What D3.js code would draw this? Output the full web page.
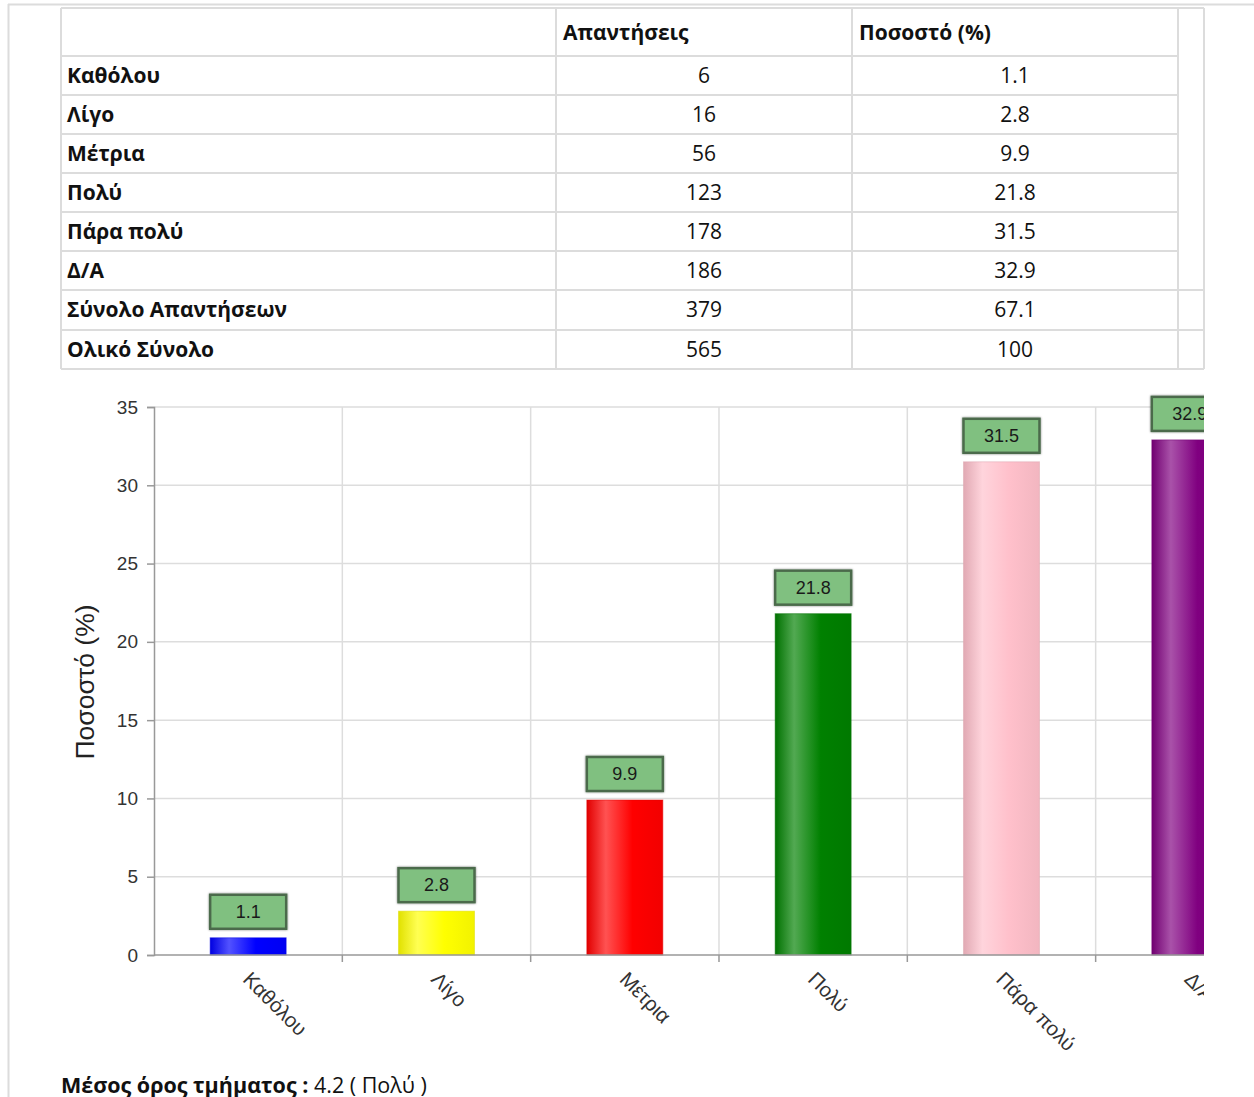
<!DOCTYPE html>
<html>
<head>
<meta charset="utf-8">
<script src="https://cdn.jsdelivr.net/npm/d3@7"></script>
<style>
  body { margin: 0; background: #fff; overflow: hidden; }
  svg { display: block; }
</style>
</head>
<body>
<svg id="page" width="1254" height="1097"></svg>
<script>
// Data ***********************************************************************
const categories = ["Καθόλου", "Λίγο", "Μέτρια", "Πολύ", "Πάρα πολύ", "Δ/Α"];
const responses = [6, 16, 56, 123, 178, 186];
const percents = [1.1, 2.8, 9.9, 21.8, 31.5, 32.9];
const barColors = ["#0000ff", "#ffff00", "#ff0000", "#008000", "#ffc0cb", "#800080"];

const totalLabels = ["Σύνολο Απαντήσεων", "Ολικό Σύνολο"];
const totalResponses = [379, 565];
const totalPercents = [67.1, 100];

const headers = ["", "Απαντήσεις", "Ποσοστό (%)"];
const yTicks = [0, 5, 10, 15, 20, 25, 30, 35];

const svg = d3.select("#page");
const border = "#dcdcdc";

// Page frame lines
svg.append("line").attr("x1", 8).attr("x2", 1254).attr("y1", 4.5).attr("y2", 4.5)
    .attr("stroke", border).attr("stroke-width", 2);
svg.append("line").attr("x1", 8.5).attr("x2", 8.5).attr("y1", 4).attr("y2", 1097)
    .attr("stroke", border).attr("stroke-width", 2);

// Table section **************************************************************
const colX = [61, 556, 852, 1178, 1204];           // column borders
const rowY = [8, 56, 95, 134, 173, 212, 251, 290, 330, 369]; // row borders

const rows = categories.map((c, i) => [c, responses[i], percents[i]])
    .concat(totalLabels.map((c, i) => [c, totalResponses[i], totalPercents[i]]));

const table = svg.append("g").attr("font-family", "'Open Sans', sans-serif").attr("font-size", 21);

// horizontal lines
rowY.forEach((y, i) => {
    // the last narrow column spans the first rows, so no inner lines there
    const x2 = (i >= 1 && i <= 6) ? colX[3] : colX[4];
    table.append("line").attr("x1", colX[0]).attr("x2", x2).attr("y1", y).attr("y2", y)
        .attr("stroke", border).attr("stroke-width", 2);
});
// vertical lines
colX.forEach(x => {
    table.append("line").attr("x1", x).attr("x2", x).attr("y1", rowY[0]).attr("y2", rowY[rowY.length - 1])
        .attr("stroke", border).attr("stroke-width", 2);
});

// header text
headers.forEach((h, j) => {
    table.append("text").attr("x", colX[j] + 7).attr("y", 40)
        .attr("font-weight", "bold").attr("fill", "#111").text(h);
});

// body rows
rows.forEach((r, i) => {
    const yMid = (rowY[i + 1] + rowY[i + 2]) / 2;
    table.append("text").attr("x", colX[0] + 6).attr("y", yMid + 7)
        .attr("font-weight", "bold").attr("fill", "#111").text(r[0]);
    table.append("text").attr("x", (colX[1] + colX[2]) / 2).attr("y", yMid + 7)
        .attr("text-anchor", "middle").attr("fill", "#111").text(r[1]);
    table.append("text").attr("x", (colX[2] + colX[3]) / 2).attr("y", yMid + 7)
        .attr("text-anchor", "middle").attr("fill", "#111").text(r[2]);
});

// Chart section **************************************************************
const plotLeft = 154, plotTop = 407, plotBottom = 955, bandW = 188.33;

const x = d3.scaleBand().domain(categories)
    .range([plotLeft, plotLeft + bandW * categories.length]);
const y = d3.scaleLinear().domain([0, 35]).range([plotBottom, plotTop]);

// clip at the container edge
const defs = svg.append("defs");
defs.append("clipPath").attr("id", "clip")
    .append("rect").attr("x", 0).attr("y", 380).attr("width", 1204).attr("height", 717);

// gradients for bars
barColors.forEach((c, i) => {
    const base = d3.color(c);
    const light = d3.interpolateRgb(c, "#ffffff")(0.32);
    const g = defs.append("linearGradient").attr("id", "grad" + i)
        .attr("x1", "0%").attr("x2", "100%").attr("y1", "0%").attr("y2", "0%");
    g.append("stop").attr("offset", "0%").attr("stop-color", base.darker(0.35));
    g.append("stop").attr("offset", "25%").attr("stop-color", light);
    g.append("stop").attr("offset", "60%").attr("stop-color", c);
    g.append("stop").attr("offset", "100%").attr("stop-color", base.darker(0.15));
});

// shadow filter for data labels
const f = defs.append("filter").attr("id", "shadow").attr("x", "-20%").attr("y", "-30%")
    .attr("width", "140%").attr("height", "160%");
f.append("feGaussianBlur").attr("in", "SourceAlpha").attr("stdDeviation", 1.2).attr("result", "b");
f.append("feComponentTransfer").attr("in", "b").attr("result", "s")
    .append("feFuncA").attr("type", "linear").attr("slope", 0.5);
const fm = f.append("feMerge");
fm.append("feMergeNode").attr("in", "s");
fm.append("feMergeNode").attr("in", "SourceGraphic");

const chart = svg.append("g").attr("clip-path", "url(#clip)")
    .attr("font-family", "'Liberation Sans', Arial, sans-serif");

// horizontal grid
chart.selectAll(".hgrid").data(yTicks.slice(1)).enter().append("line")
    .attr("x1", plotLeft).attr("x2", x.range()[1])
    .attr("y1", d => y(d)).attr("y2", d => y(d))
    .attr("stroke", "#dddddd").attr("stroke-width", 1.5);

// vertical grid at category boundaries
const bounds = categories.slice(1).map(c => x(c)).concat([x.range()[1]]);
chart.selectAll(".vgrid").data(bounds).enter().append("line")
    .attr("x1", d => d).attr("x2", d => d)
    .attr("y1", plotTop).attr("y2", plotBottom)
    .attr("stroke", "#dddddd").attr("stroke-width", 1.5);

// bars
const barW = 76;
chart.selectAll(".bar").data(categories).enter().append("rect")
    .attr("x", d => x(d) + x.bandwidth() / 2 - barW / 2)
    .attr("width", barW)
    .attr("y", (d, i) => y(percents[i]))
    .attr("height", (d, i) => y(0) - y(percents[i]))
    .attr("fill", (d, i) => `url(#grad${i})`)
    .attr("stroke", (d, i) => d3.color(barColors[i]).darker(0.4))
    .attr("stroke-opacity", 0.5)
    .attr("stroke-width", 1);

// y axis
const yAxis = chart.append("g").attr("transform", `translate(${plotLeft},0)`)
    .call(d3.axisLeft(y).tickValues(yTicks).tickSize(7).tickPadding(9));
yAxis.select(".domain").attr("stroke", "#999").attr("stroke-width", 1.5);
yAxis.selectAll(".tick line").attr("stroke", "#999").attr("stroke-width", 1.5);
yAxis.selectAll(".tick text").attr("font-size", 19).attr("fill", "#333")
    .attr("font-family", "'Liberation Sans', Arial, sans-serif");

// x axis
const xAxisLine = chart.append("g");
xAxisLine.append("line").attr("x1", plotLeft).attr("x2", x.range()[1])
    .attr("y1", plotBottom).attr("y2", plotBottom)
    .attr("stroke", "#999").attr("stroke-width", 1.5);
xAxisLine.selectAll(".xt").data(bounds).enter().append("line")
    .attr("x1", d => d).attr("x2", d => d)
    .attr("y1", plotBottom).attr("y2", plotBottom + 7)
    .attr("stroke", "#999").attr("stroke-width", 1.5);

// rotated category labels
chart.selectAll(".xlabel").data(categories).enter().append("text")
    .attr("transform", d => `translate(${x(d) + x.bandwidth() / 2 + 4},${plotBottom + 15}) rotate(45)`)
    .attr("dy", "0.72em")
    .attr("font-size", 20.5).attr("fill", "#333")
    .text(d => d);

// data labels
const lblW = 76, lblH = 34;
const lbl = chart.selectAll(".lbl").data(categories).enter().append("g")
    .attr("transform", (d, i) => `translate(${x(d) + x.bandwidth() / 2},${y(percents[i]) - 9 - lblH})`);
lbl.append("rect")
    .attr("x", -lblW / 2).attr("y", 0).attr("width", lblW).attr("height", lblH)
    .attr("fill", "#80c080").attr("stroke", "#4b6b4b").attr("stroke-width", 2.5)
    .attr("filter", "url(#shadow)");
lbl.append("text").attr("x", 0).attr("y", lblH / 2 + 6)
    .attr("text-anchor", "middle").attr("font-size", 18).attr("fill", "#1a1a1a")
    .text((d, i) => percents[i]);

// y axis title
svg.append("text")
    .attr("transform", `translate(94,${(plotTop + plotBottom) / 2 + 1}) rotate(-90)`)
    .attr("text-anchor", "middle")
    .attr("font-family", "'Liberation Sans', Arial, sans-serif")
    .attr("font-size", 26.5).attr("fill", "#222")
    .text("Ποσοστό (%)");

// Footer *********************************************************************
const foot = svg.append("text").attr("x", 61).attr("y", 1093)
    .attr("font-family", "'Open Sans', sans-serif").attr("font-size", 21.5).attr("fill", "#111");
foot.append("tspan").attr("font-weight", "bold").text("Μέσος όρος τμήματος :");
foot.append("tspan").text(" 4.2 ( Πολύ )");
</script>
</body>
</html>
